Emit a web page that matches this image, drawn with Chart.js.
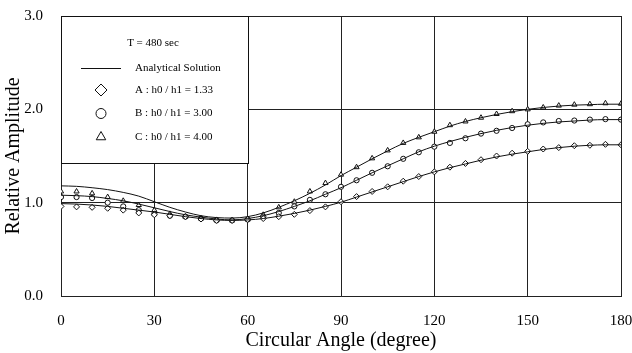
<!DOCTYPE html>
<html>
<head>
<meta charset="utf-8">
<script src="https://cdn.jsdelivr.net/npm/chart.js@4"></script>
<style>
  html, body { margin: 0; padding: 0; background: #fff; }
  #wrap { width: 632px; height: 353px; }
</style>
</head>
<body>
<div id="wrap"><canvas id="chart"></canvas></div>
<script>
var legendTitle = "T = 480 sec";

var angles = [0, 5, 10, 15, 20, 25, 30, 35, 40, 45, 50, 55, 60, 65, 70, 75, 80, 85, 90,
              95, 100, 105, 110, 115, 120, 125, 130, 135, 140, 145, 150, 155, 160, 165, 170, 175, 180];

// analytical solution curves
var lineA = [0.99, 0.985, 0.975, 0.96, 0.94, 0.92, 0.90, 0.875, 0.85, 0.83, 0.815, 0.81, 0.815, 0.83, 0.855, 0.885, 0.92, 0.96, 1.005,
             1.06, 1.115, 1.17, 1.225, 1.28, 1.33, 1.375, 1.415, 1.455, 1.49, 1.52, 1.545, 1.57, 1.59, 1.605, 1.615, 1.62, 1.62];
var lineB = [1.08, 1.075, 1.065, 1.045, 1.02, 0.985, 0.945, 0.905, 0.87, 0.845, 0.825, 0.815, 0.83, 0.86, 0.905, 0.96, 1.02, 1.09, 1.16,
             1.24, 1.32, 1.395, 1.47, 1.545, 1.605, 1.655, 1.70, 1.74, 1.775, 1.805, 1.83, 1.85, 1.865, 1.875, 1.885, 1.89, 1.89];
var lineC = [1.18, 1.175, 1.16, 1.14, 1.11, 1.07, 1.01, 0.95, 0.90, 0.86, 0.84, 0.835, 0.85, 0.89, 0.95, 1.02, 1.10, 1.19, 1.29,
             1.38, 1.47, 1.555, 1.635, 1.70, 1.76, 1.82, 1.87, 1.91, 1.945, 1.975, 2.0, 2.02, 2.035, 2.045, 2.05, 2.055, 2.055];

// measured points
var ptsA = [0.96, 0.955, 0.95, 0.94, 0.92, 0.89, 0.87, 0.86, 0.85, 0.825, 0.81, 0.81, 0.82, 0.83, 0.85, 0.875, 0.915, 0.955, 1.01,
            1.065, 1.12, 1.17, 1.23, 1.28, 1.33, 1.38, 1.42, 1.46, 1.50, 1.53, 1.55, 1.575, 1.59, 1.61, 1.615, 1.625, 1.62];
var ptsB = [1.06, 1.06, 1.05, 1.00, 0.96, 0.92, 0.88, 0.86, 0.85, 0.83, 0.81, 0.81, 0.82, 0.85, 0.89, 0.96, 1.03, 1.09, 1.17,
            1.24, 1.32, 1.39, 1.47, 1.54, 1.60, 1.64, 1.69, 1.74, 1.77, 1.80, 1.84, 1.86, 1.875, 1.88, 1.89, 1.895, 1.89];
var ptsC = [1.12, 1.12, 1.10, 1.06, 1.02, 0.975, 0.92, 0.88, 0.85, 0.83, 0.815, 0.81, 0.82, 0.87, 0.95, 1.01, 1.12, 1.21, 1.30,
            1.38, 1.475, 1.56, 1.64, 1.70, 1.76, 1.83, 1.87, 1.91, 1.95, 1.98, 2.0, 2.02, 2.04, 2.05, 2.055, 2.065, 2.06];

var xTicks = [0, 30, 60, 90, 120, 150, 180];
var yTicks = [0, 1, 2, 3];

function pairs(ys) {
  return angles.map(function (a, i) { return { x: a, y: ys[i] }; });
}

var serif = "'Liberation Serif', 'DejaVu Serif', serif";

function curve(ys) {
  return {
    label: 'Analytical Solution',
    data: pairs(ys),
    showLine: true,
    borderColor: '#111',
    borderWidth: 1,
    pointRadius: 0,
    cubicInterpolationMode: 'monotone',
    fill: false
  };
}

function points(label, ys, style, r) {
  return {
    label: label,
    data: pairs(ys),
    showLine: false,
    pointStyle: style,
    pointRadius: r,
    borderColor: '#111',
    backgroundColor: '#fff',
    pointBorderWidth: 1
  };
}

var datasets = [
  curve(lineA), curve(lineB), curve(lineC),
  points('A : h0 / h1 = 1.33', ptsA, 'rectRot', 3),
  points('B : h0 / h1 = 3.00', ptsB, 'circle', 2.6),
  points('C : h0 / h1 = 4.00', ptsC, 'triangle', 3)
];

// legend box drawn inside the plot, top-left
var boxLegend = {
  id: 'boxLegend',
  afterDraw: function (chart) {
    var ctx = chart.ctx;
    var area = chart.chartArea;
    var x0 = area.left, y0 = area.top, w = 187, h = 147;
    ctx.save();
    ctx.fillStyle = '#fff';
    ctx.fillRect(x0, y0, w, h);
    ctx.strokeStyle = '#111';
    ctx.lineWidth = 1;
    ctx.strokeRect(x0 + 0.5, y0 + 0.5, w, h);

    ctx.fillStyle = '#000';
    ctx.font = '11px ' + serif;
    ctx.textBaseline = 'middle';
    ctx.textAlign = 'center';
    ctx.fillText(legendTitle, x0 + 92, y0 + 27);

    ctx.textAlign = 'left';
    var symX = x0 + 40, txtX = x0 + 74;
    // line entry
    ctx.beginPath();
    ctx.moveTo(x0 + 20, y0 + 52.5);
    ctx.lineTo(x0 + 60, y0 + 52.5);
    ctx.stroke();
    ctx.fillText(datasets[0].label, txtX, y0 + 52);

    var rows = [3, 4, 5];
    var sizes = [6, 5, 5.5];
    rows.forEach(function (di, k) {
      var ds = datasets[di];
      var y = y0 + 74 + k * 23.5;
      ctx.fillStyle = '#fff';
      ctx.strokeStyle = '#111';
      Chart.helpers.drawPoint(ctx, {
        pointStyle: ds.pointStyle, radius: sizes[k], borderWidth: 1, rotation: 0
      }, symX, y);
      ctx.fillStyle = '#000';
      ctx.fillText(ds.label, txtX, y);
    });
    ctx.restore();
  }
};

new Chart('chart', {
  type: 'scatter',
  data: { datasets: datasets },
  options: {
    responsive: true,
    maintainAspectRatio: false,
    animation: false,
    layout: { padding: { top: 16, right: 11, left: 0, bottom: 0 } },
    plugins: { legend: { display: false }, tooltip: { enabled: false } },
    scales: {
      x: {
        type: 'linear',
        min: 0, max: 180,
        afterBuildTicks: function (s) { s.ticks = xTicks.map(function (v) { return { value: v }; }); },
        afterFit: function (s) { s.height = 57; s.paddingLeft = 0; s.paddingRight = 0; },
        grid: { color: '#222', lineWidth: 1, drawTicks: false },
        border: { color: '#222', width: 1 },
        ticks: { color: '#000', padding: 16, maxRotation: 0, font: { family: serif, size: 15 } },
        title: {
          display: true, text: 'Circular Angle (degree)', color: '#000',
          font: { family: serif, size: 20 }, padding: 0
        }
      },
      y: {
        min: 0, max: 3,
        afterBuildTicks: function (s) { s.ticks = yTicks.map(function (v) { return { value: v }; }); },
        afterFit: function (s) { s.width = 61; s.paddingTop = 0; s.paddingBottom = 0; },
        grid: { color: '#222', lineWidth: 1, drawTicks: false },
        border: { color: '#222', width: 1 },
        ticks: {
          color: '#000', padding: 18, font: { family: serif, size: 15 },
          callback: function (v) { return v.toFixed(1); }
        },
        title: {
          display: true, text: 'Relative Amplitude', color: '#000',
          font: { family: serif, size: 20 }, padding: { top: 2, bottom: 0 }
        }
      }
    }
  },
  plugins: [boxLegend]
});
</script>
</body>
</html>
